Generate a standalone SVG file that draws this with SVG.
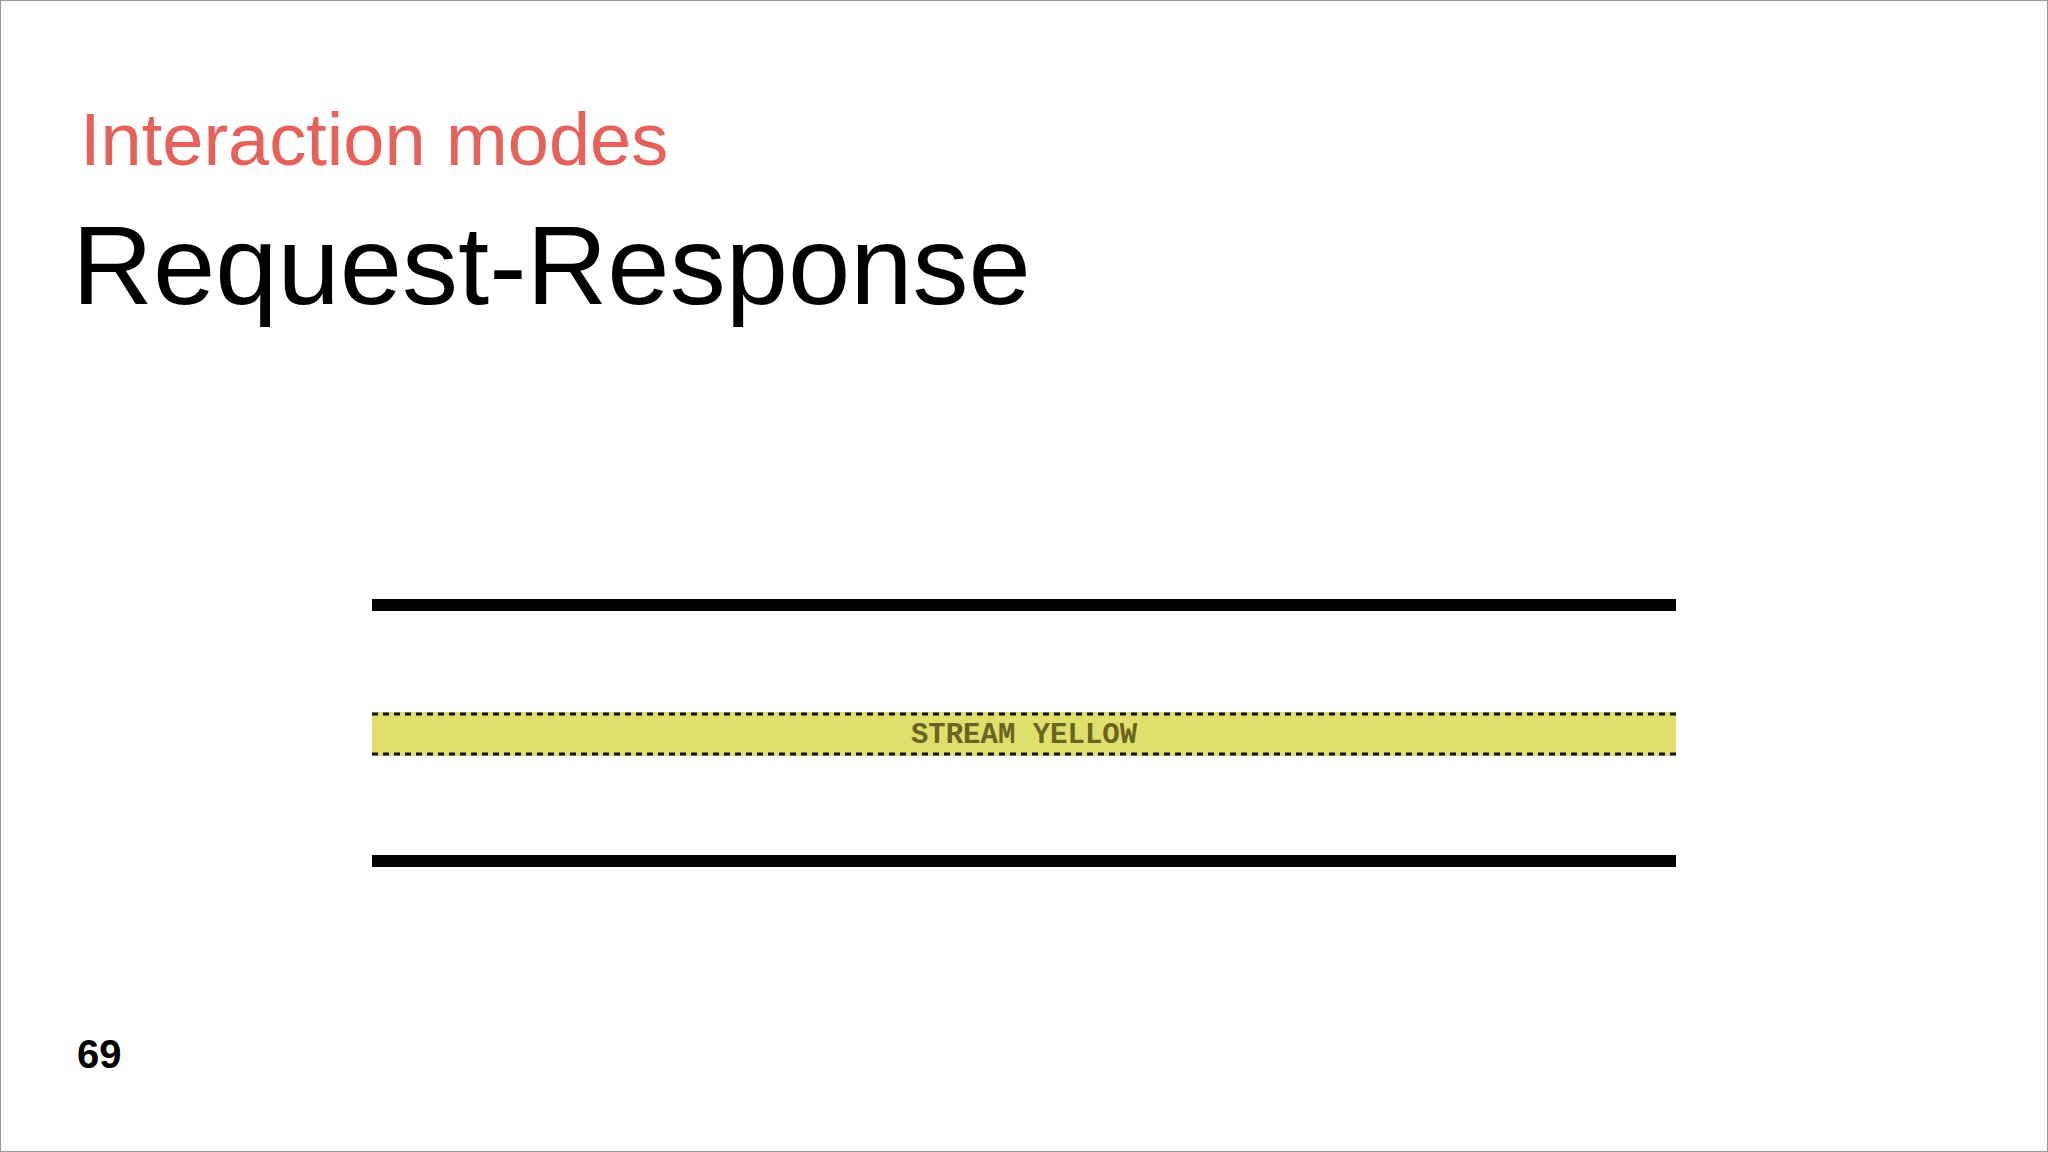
<svg xmlns="http://www.w3.org/2000/svg" width="2048" height="1152" viewBox="0 0 2048 1152">
<style>
.bar{fill:#000}
.dash{stroke:#111;stroke-width:3;stroke-dasharray:6 5;fill:none}
.sans{font-family:"Liberation Sans",Arial,sans-serif}
</style>
<rect x="0.5" y="0.5" width="2047" height="1151" fill="#fff" stroke="#999"/>
<g id="subtitle"><text x="80" y="165" class="sans" font-size="74" fill="#e6615a">Interaction modes</text></g>
<g id="title"><text x="72" y="304" class="sans" font-size="112" fill="#000">Request-Response</text></g>
<g id="bar-top"><rect class="bar" x="372" y="599" width="1304" height="12"/></g>
<g id="stream">
<rect x="372" y="712" width="1304" height="44" fill="#dfdf6e"/>
<line class="dash" x1="372" y1="714" x2="1676" y2="714"/>
<line class="dash" x1="372" y1="754" x2="1676" y2="754"/>
<text x="1024" y="743" text-anchor="middle" font-family="'Liberation Mono','Courier New',monospace" font-weight="bold" font-size="29" fill="#6b6420">STREAM YELLOW</text>
</g>
<g id="bar-bottom"><rect class="bar" x="372" y="855" width="1304" height="12"/></g>
<g id="connectors"></g>
<g id="page"><text x="77" y="1068" class="sans" font-weight="bold" font-size="40" fill="#000">69</text></g>
</svg>
